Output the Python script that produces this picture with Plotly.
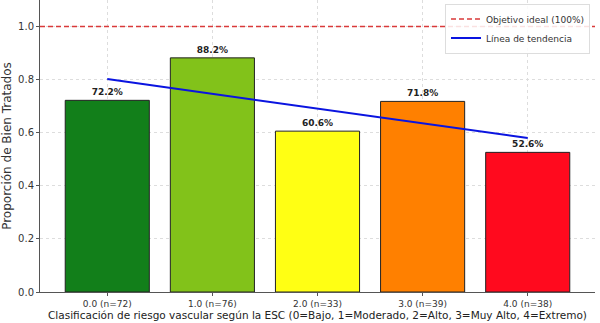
import plotly.graph_objects as go

categories = [0, 1, 2, 3, 4]
tick_labels = ["0.0 (n=72)", "1.0 (n=76)", "2.0 (n=33)", "3.0 (n=39)", "4.0 (n=38)"]
proportions = [0.722, 0.882, 0.606, 0.718, 0.526]
bar_labels = ["72.2%", "88.2%", "60.6%", "71.8%", "52.6%"]
bar_colors = ["#127f1a", "#82c21a", "#ffff14", "#ff8000", "#ff0a1e"]
trend_x = [0, 4]
trend_y = [0.802, 0.580]
x_range = [-0.64, 4.64]
target_y = [1.0, 1.0]

fig = go.Figure()
fig.add_trace(go.Bar(
    x=categories, y=proportions, width=0.8,
    marker=dict(color=bar_colors, line=dict(color="#222", width=1)),
    text=bar_labels, textposition="outside",
    textfont=dict(family="DejaVu Sans", size=9, color="#222", weight="bold"),
    cliponaxis=False, showlegend=False,
))
fig.add_trace(go.Scatter(
    x=x_range, y=target_y, mode="lines",
    line=dict(color="#d93a3a", width=1.5, dash="5px,3px"),
    name="Objetivo ideal (100%)",
))
fig.add_trace(go.Scatter(
    x=trend_x, y=trend_y, mode="lines",
    line=dict(color="#0a14e0", width=2),
    name="Línea de tendencia",
))

fig.update_layout(
    width=600, height=323,
    margin=dict(l=40, r=5, t=0, b=31),
    plot_bgcolor="white", paper_bgcolor="white",
    font=dict(family="DejaVu Sans", size=9, color="#333"),
    legend=dict(x=0.991, y=0.988, xanchor="right", yanchor="top",
                bgcolor="rgba(255,255,255,0.85)", bordercolor="#ddd", borderwidth=1,
                font=dict(size=9, color="#333"), tracegroupgap=0,
                itemwidth=30),
    bargap=0.2,
)
fig.update_xaxes(
    range=x_range, tickvals=categories, ticktext=tick_labels,
    showgrid=True, gridcolor="#dddddd", griddash="dot", gridwidth=1,
    showline=True, linecolor="#555", linewidth=1,
    ticks="outside", ticklen=3, tickcolor="#555",
    tickfont=dict(size=9, color="#333"),
    title=dict(text="Clasificación de riesgo vascular según la ESC (0=Bajo, 1=Moderado, 2=Alto, 3=Muy Alto, 4=Extremo)",
               font=dict(size=10.5, color="#222"), standoff=3),
    zeroline=False, layer="above traces",
)
fig.update_yaxes(
    range=[0, 1.1], tickvals=[0, 0.2, 0.4, 0.6, 0.8, 1.0],
    ticktext=["0.0", "0.2", "0.4", "0.6", "0.8", "1.0"],
    showgrid=True, gridcolor="#dddddd", griddash="dot", gridwidth=1,
    showline=True, linecolor="#555", linewidth=1,
    ticks="outside", ticklen=3, tickcolor="#555",
    tickfont=dict(size=10, color="#333"),
    title=dict(text="Proporción de Bien Tratados", font=dict(size=12, color="#333"), standoff=3),
    zeroline=False,
)

fig.write_html("out.html", config={"displayModeBar": False},
               post_script="document.body.style.margin='0';document.body.style.overflow='hidden';")
